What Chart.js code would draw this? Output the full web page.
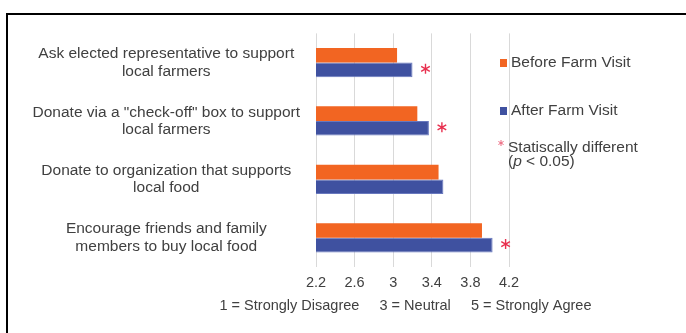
<!DOCTYPE html>
<html>
<head>
<meta charset="utf-8">
<script src="https://cdn.jsdelivr.net/npm/chart.js@4"></script>
<style>
  html, body { margin:0; padding:0; background:#fff; overflow:hidden; }
  #frame { position:absolute; left:6px; top:13px; width:720px; height:400px; border:2px solid #000; background:#fff; }
  #wrap { position:absolute; left:0; top:0; width:686px; height:333px; }
</style>
</head>
<body>
<div id="frame"></div>
<div id="wrap"><canvas id="chart" width="686" height="333"></canvas></div>
<script>
// data
const categories = [
    ['Ask elected representative to support', 'local farmers'],
    ['Donate via a "check-off" box to support', 'local farmers'],
    ['Donate to organization that supports', 'local food'],
    ['Encourage friends and family', 'members to buy local food']
];
const beforeVisit = [3.04, 3.25, 3.47, 3.92];
const afterVisit = [3.20, 3.37, 3.52, 4.03];
const significant = [true, true, false, true];
const xTicks = [2.2, 2.6, 3, 3.4, 3.8, 4.2];
const seriesNames = ['Before Farm Visit', 'After Farm Visit'];
const scaleNote = '1 = Strongly Disagree     3 = Neutral     5 = Strongly Agree';

const FONT = '"Liberation Sans", Arial, sans-serif';
const TEXT = '#404040';
const ORANGE = '#F26522';
const BLUE = '#3F51A0';
const STAR = '#E8304F';

function drawStar(ctx, x, y, r, color, w){
    ctx.save();
    ctx.strokeStyle = color;
    ctx.lineWidth = w;
    ctx.beginPath();
    for(let k=0;k<3;k++){
        const a = Math.PI/2 + k*Math.PI/3;
        ctx.moveTo(x - r*Math.cos(a), y - r*Math.sin(a));
        ctx.lineTo(x + r*Math.cos(a), y + r*Math.sin(a));
    }
    ctx.stroke();
    ctx.restore();
}

// asterisks, side legend and the scale note
const extras = {
    id:'extras',
    afterDraw(chart){
        const ctx = chart.ctx, area = chart.chartArea, xs = chart.scales.x;
        const meta = chart.getDatasetMeta(1);
        significant.forEach((s,i)=>{
            if(!s) return;
            const x = xs.getPixelForValue(afterVisit[i]) + 13;
            drawStar(ctx, x, meta.data[i].y - 1, 5, STAR, 1.4);
        });

        ctx.save();
        ctx.fillStyle = TEXT;
        ctx.textBaseline = 'alphabetic';
        ctx.textAlign = 'left';
        ctx.font = '15.5px ' + FONT;
        const lx = area.right - 9;
        const base = [67, 115];
        chart.data.datasets.forEach((ds,i)=>{
            ctx.fillStyle = ds.backgroundColor;
            ctx.fillRect(lx, base[i]-8, 7, 8);
            ctx.fillStyle = TEXT;
            ctx.fillText(ds.label, lx + 11, base[i]);
        });
        drawStar(ctx, lx + 1, 143, 3, '#EC6A80', 1);
        ctx.font = '15.5px ' + FONT;
        ctx.fillText('Statiscally different', lx + 8, 152);
        let px = lx + 8;
        ctx.fillText('(', px, 166); px += ctx.measureText('(').width;
        ctx.font = 'italic 15.5px ' + FONT;
        ctx.fillText('p', px, 166); px += ctx.measureText('p').width;
        ctx.font = '15.5px ' + FONT;
        ctx.fillText(' < 0.05)', px, 166);

        ctx.font = '14.5px ' + FONT;
        ctx.textAlign = 'center';
        ctx.textBaseline = 'middle';
        ctx.fillText(scaleNote, (area.left + area.right)/2 - 7, 306);
        ctx.restore();
    }
};

new Chart(document.getElementById('chart').getContext('2d'), {
    type:'bar',
    data:{
        labels:categories,
        datasets:[
            {label:seriesNames[0], data:beforeVisit, backgroundColor:ORANGE, borderWidth:0},
            {label:seriesNames[1], data:afterVisit, backgroundColor:BLUE, borderColor:'#6878BE', borderWidth:1}
        ]
    },
    options:{
        indexAxis:'y',
        responsive:false,
        animation:false,
        devicePixelRatio:1,
        categoryPercentage:0.5,
        barPercentage:1.0,
        layout:{padding:{left:0, top:30, right:177, bottom:0}},
        plugins:{legend:{display:false}, tooltip:{enabled:false}},
        scales:{
            x:{
                min:2.2, max:4.2,
                afterBuildTicks:s=>{ s.ticks = xTicks.map(v=>({value:v})); },
                afterFit:s=>{ s.height = 66; },
                grid:{color:'#D9D9D9', lineWidth:1, drawTicks:false},
                border:{display:false},
                ticks:{color:TEXT, padding:7, font:{family:FONT, size:14.5}, callback:v=>String(v)}
            },
            y:{
                afterFit:s=>{ s.width = 316; },
                grid:{display:false, drawTicks:false},
                border:{display:false},
                ticks:{color:TEXT, padding:16, crossAlign:'center', font:{family:FONT, size:15.5, lineHeight:1.12}}
            }
        }
    },
    plugins:[extras]
});
</script>
</body>
</html>
